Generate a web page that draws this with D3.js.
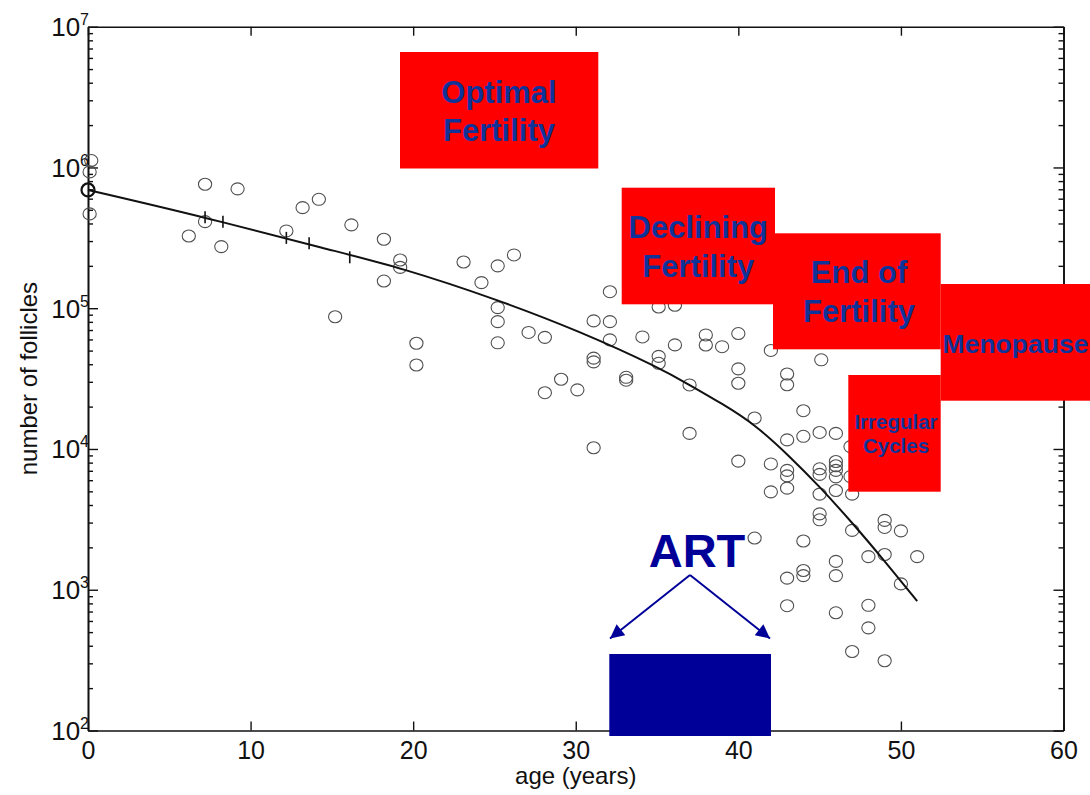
<!DOCTYPE html>
<html>
<head>
<meta charset="utf-8">
<script src="https://cdn.jsdelivr.net/npm/d3@7"></script>
<style>
  html, body { margin: 0; padding: 0; background: #fff; }
  svg { display: block; }
</style>
</head>
<body>
<svg id="chart" width="1090" height="795"></svg>
<script>
// ---- data -------------------------------------------------------------
// Observed follicle counts by age (one value per ovary sample)
const ages = [
  0.2, 0.1, 0.1,
  7.2, 9.2, 7.2, 6.2, 8.2, 12.2, 13.2, 14.2, 15.2, 16.2, 18.2, 19.2, 19.2, 18.2,
  20.2, 20.2, 23.1, 25.2, 26.2, 24.2, 25.2, 25.2, 25.2, 27.1, 28.1, 29.1, 28.1, 30.1,
  32.1, 35.1, 36.1, 31.1, 32.1, 32.1, 34.1, 36.1, 38.0, 38.0, 39.0, 40.0, 42.0,
  31.1, 31.1, 35.1, 35.1, 33.1, 33.1, 37.0, 40.0, 40.0, 41.0, 37.0, 31.1, 40.0, 42.0,
  45.1, 43.0, 43.0, 44.0, 43.0, 44.0, 45.0, 46.0, 46.9,
  43.0, 43.0, 45.0, 45.0, 46.0, 46.0, 46.0, 46.0, 46.9, 47.0,
  43.0, 42.0, 45.0, 46.0, 45.0, 45.0, 49.0, 49.0, 50.0, 47.0,
  41.0, 44.0, 48.0, 49.0, 51.0, 46.0, 44.0, 44.0, 43.0, 46.0, 50.0,
  43.0, 46.0, 48.0, 48.0, 47.0, 49.0
];
const follicles = [
  1.12e6, 9.3e5, 4.68e5,
  7.6e5, 7.05e5, 4.12e5, 3.26e5, 2.74e5, 3.54e5, 5.18e5, 5.94e5, 8.7e4, 3.91e5, 3.09e5, 2.2e5, 1.95e5, 1.56e5,
  5.64e4, 3.95e4, 2.13e5, 2.0e5, 2.39e5, 1.52e5, 1.01e5, 8.03e4, 5.68e4, 6.73e4, 6.21e4, 3.13e4, 2.51e4, 2.63e4,
  1.31e5, 1.02e5, 1.05e5, 8.13e4, 8.03e4, 5.96e4, 6.25e4, 5.49e4, 6.46e4, 5.48e4, 5.33e4, 6.61e4, 5.01e4,
  4.42e4, 4.16e4, 4.55e4, 4.06e4, 3.23e4, 3.08e4, 2.85e4, 3.71e4, 2.93e4, 1.66e4, 1.29e4, 1.02e4, 8.2e3, 7.83e3,
  4.3e4, 3.41e4, 2.86e4, 1.87e4, 1.16e4, 1.23e4, 1.31e4, 1.29e4, 1.04e4,
  7.05e3, 6.44e3, 7.23e3, 6.6e3, 8.15e3, 7.6e3, 7.05e3, 6.34e3, 6.37e3, 4.78e3,
  5.27e3, 4.96e3, 4.78e3, 5.07e3, 3.46e3, 3.14e3, 3.11e3, 2.77e3, 2.62e3, 2.64e3,
  2.33e3, 2.22e3, 1.72e3, 1.78e3, 1.72e3, 1.59e3, 1.37e3, 1.26e3, 1.21e3, 1.26e3, 1.1e3,
  7.7e2, 6.86e2, 7.75e2, 5.36e2, 3.64e2, 3.13e2
];

// Fitted decline curve
const fitAges   = [0, 7.2, 14.9, 19.2, 25.2, 30.3, 35.2, 37.0, 39.0, 41.0, 43.1, 45.0, 47.0, 49.0, 51.0];
const fitCounts = [6.92e5, 4.43e5, 2.59e5, 1.95e5, 1.15e5, 6.82e4, 3.75e4, 2.85e4, 2.1e4, 1.5e4, 9.0e3, 5.4e3, 3.0e3, 1.6e3, 8.3e2];

// Short marks drawn across the fitted curve
const markAges   = [7.2, 8.3, 12.2, 13.6, 16.1];
const markCounts = [4.43e5, 4.12e5, 3.16e5, 2.9e5, 2.3e5];

// Axis ticks
const xTickValues    = [0, 10, 20, 30, 40, 50, 60];
const yTickExponents = [2, 3, 4, 5, 6, 7];
const minorMultipliers = [2, 3, 4, 5, 6, 7, 8, 9];

// ---- layout -------------------------------------------------------------
const svg = d3.select("#chart");
const plot = { left: 88, right: 1063.5, top: 26.7, bottom: 730.5 };

const x = d3.scaleLinear().domain([0, 60]).range([plot.left, plot.right]);
const y = d3.scaleLog().domain([1e2, 1e7]).range([plot.bottom, plot.top]);

const decadeValues = yTickExponents.map(e => Math.pow(10, e));
const minorValues = [];
yTickExponents.slice(0, -1).forEach(e => {
  minorMultipliers.forEach(m => minorValues.push(m * Math.pow(10, e)));
});

const FONT = '"Liberation Sans", Arial, Helvetica, sans-serif';

// ---- axes -----------------------------------------------------------
function styleAxis(g) {
  g.select(".domain").attr("stroke", "#111").attr("stroke-width", 1.6);
  g.selectAll(".tick line").attr("stroke", "#111").attr("stroke-width", 1.4);
}

// bottom
const xAxisBottom = svg.append("g")
  .attr("transform", `translate(0,${plot.bottom})`)
  .call(d3.axisBottom(x).tickValues(xTickValues).tickSizeInner(-9).tickSizeOuter(0).tickPadding(11)
        .tickFormat(d3.format("d")));
styleAxis(xAxisBottom);
xAxisBottom.selectAll(".tick text")
  .attr("font-family", FONT).attr("font-size", 25).attr("fill", "#111");

// top
const xAxisTop = svg.append("g")
  .attr("transform", `translate(0,${plot.top})`)
  .call(d3.axisTop(x).tickValues(xTickValues).tickSizeInner(-9).tickSizeOuter(0).tickFormat(""));
styleAxis(xAxisTop);

// left, major
const yAxisLeft = svg.append("g")
  .attr("transform", `translate(${plot.left},0)`)
  .call(d3.axisLeft(y).tickValues(decadeValues).tickSizeInner(-10).tickSizeOuter(0).tickFormat(""));
styleAxis(yAxisLeft);
yAxisLeft.selectAll(".tick").each(function (d) {
  const t = d3.select(this).append("text")
    .attr("x", 1).attr("y", 9)
    .attr("text-anchor", "end")
    .attr("font-family", FONT)
    .attr("fill", "#111");
  t.append("tspan").attr("font-size", 26).text("10");
  t.append("tspan").attr("font-size", 16).attr("dy", -11).text(Math.round(Math.log10(d)));
});

// left, minor
const yAxisLeftMinor = svg.append("g")
  .attr("transform", `translate(${plot.left},0)`)
  .call(d3.axisLeft(y).tickValues(minorValues).tickSizeInner(-5).tickSizeOuter(0).tickFormat(""));
styleAxis(yAxisLeftMinor);

// right, major + minor
const yAxisRight = svg.append("g")
  .attr("transform", `translate(${plot.right},0)`)
  .call(d3.axisRight(y).tickValues(decadeValues).tickSizeInner(-10).tickSizeOuter(0).tickFormat(""));
styleAxis(yAxisRight);
const yAxisRightMinor = svg.append("g")
  .attr("transform", `translate(${plot.right},0)`)
  .call(d3.axisRight(y).tickValues(minorValues).tickSizeInner(-5).tickSizeOuter(0).tickFormat(""));
styleAxis(yAxisRightMinor);

// axis titles
svg.append("text")
  .attr("x", (plot.left + plot.right) / 2).attr("y", 784)
  .attr("text-anchor", "middle")
  .attr("font-family", FONT).attr("font-size", 24).attr("fill", "#111")
  .text("age (years)");

svg.append("text")
  .attr("transform", `translate(37,${(plot.top + plot.bottom) / 2}) rotate(-90)`)
  .attr("text-anchor", "middle")
  .attr("font-family", FONT).attr("font-size", 24).attr("fill", "#111")
  .text("number of follicles");

// ---- observations --------------------------------------------------------
const obs = ages.map((a, i) => ({ age: a, count: follicles[i] }));
svg.append("g").selectAll("ellipse").data(obs).join("ellipse")
  .attr("cx", d => x(d.age))
  .attr("cy", d => y(d.count))
  .attr("rx", 6.6).attr("ry", 6.0)
  .attr("fill", "none")
  .attr("stroke", "#505050")
  .attr("stroke-width", 1.1);

// ---- fitted curve ---------------------------------------------------------
const fit = fitAges.map((a, i) => ({ age: a, count: fitCounts[i] }));
const line = d3.line()
  .x(d => x(d.age))
  .y(d => y(d.count))
  .curve(d3.curveBasis);
svg.append("path")
  .datum(fit)
  .attr("d", line)
  .attr("fill", "none")
  .attr("stroke", "#111")
  .attr("stroke-width", 2);

// starting point of the curve
svg.append("circle")
  .attr("cx", x(fit[0].age)).attr("cy", y(fit[0].count))
  .attr("r", 6.5)
  .attr("fill", "none").attr("stroke", "#111").attr("stroke-width", 2.2);

// marks across the curve
svg.append("g").selectAll("line").data(markAges.map((a, i) => ({ age: a, count: markCounts[i] })))
  .join("line")
  .attr("x1", d => x(d.age)).attr("x2", d => x(d.age))
  .attr("y1", d => y(d.count) - 6).attr("y2", d => y(d.count) + 6)
  .attr("stroke", "#111").attr("stroke-width", 1.6);

// ---- life-stage labels --------------------------------------------------
const RED = "#ff0000";
const LABEL_BLUE = "#0f3399";
const stages = [
  { x: 400,   y: 52,    w: 198.3, h: 116.5, lines: ["Optimal", "Fertility"], size: 31, first: 50.6, step: 38.4, cx: 499 },
  { x: 621.7, y: 187.7, w: 153.3, h: 116.6, lines: ["Declining", "Fertility"], size: 31, first: 50.6, step: 38.4, cx: 698.3 },
  { x: 773,   y: 233.3, w: 167.7, h: 116,   lines: ["End of", "Fertility"], size: 31, first: 50, step: 38.4, cx: 859 },
  { x: 940.7, y: 284,   w: 152,   h: 116.7, lines: ["Menopause"], size: 26.5, first: 68.5, step: 0, cx: 1015.5 },
  { x: 848.3, y: 375,   w: 92.4,  h: 116.7, lines: ["Irregular", "Cycles"], size: 20.5, first: 54.3, step: 23.4, cx: 896 }
];
const stageG = svg.append("g");
stages.forEach(s => {
  stageG.append("rect")
    .attr("x", s.x).attr("y", s.y).attr("width", s.w).attr("height", s.h)
    .attr("fill", RED);
  s.lines.forEach((txt, i) => {
    stageG.append("text")
      .attr("x", s.cx).attr("y", s.y + s.first + i * s.step)
      .attr("text-anchor", "middle")
      .attr("font-family", FONT).attr("font-weight", "bold")
      .attr("font-size", s.size).attr("fill", LABEL_BLUE)
      .text(txt);
  });
});

// ---- ART annotation ----------------------------------------------------
const NAVY = "#000099";
const defs = svg.append("defs");
defs.append("marker")
  .attr("id", "arrow-head")
  .attr("viewBox", "0 0 10 10")
  .attr("refX", 10).attr("refY", 5)
  .attr("markerWidth", 8).attr("markerHeight", 7)
  .attr("markerUnits", "strokeWidth")
  .attr("orient", "auto")
  .append("path").attr("d", "M0,0 L10,5 L0,10 Z").attr("fill", NAVY);

const art = svg.append("g");
art.append("text")
  .attr("x", 697).attr("y", 566.7)
  .attr("text-anchor", "middle")
  .attr("font-family", FONT).attr("font-weight", "bold")
  .attr("font-size", 47).attr("fill", NAVY)
  .text("ART");
[[610, 638.5], [770, 638.5]].forEach(([tx, ty]) => {
  art.append("line")
    .attr("x1", 690).attr("y1", 575)
    .attr("x2", tx).attr("y2", ty)
    .attr("stroke", NAVY).attr("stroke-width", 2)
    .attr("marker-end", "url(#arrow-head)");
});
art.append("rect")
  .attr("x", 609.3).attr("y", 654).attr("width", 161.7).attr("height", 82)
  .attr("fill", NAVY);
</script>
</body>
</html>
